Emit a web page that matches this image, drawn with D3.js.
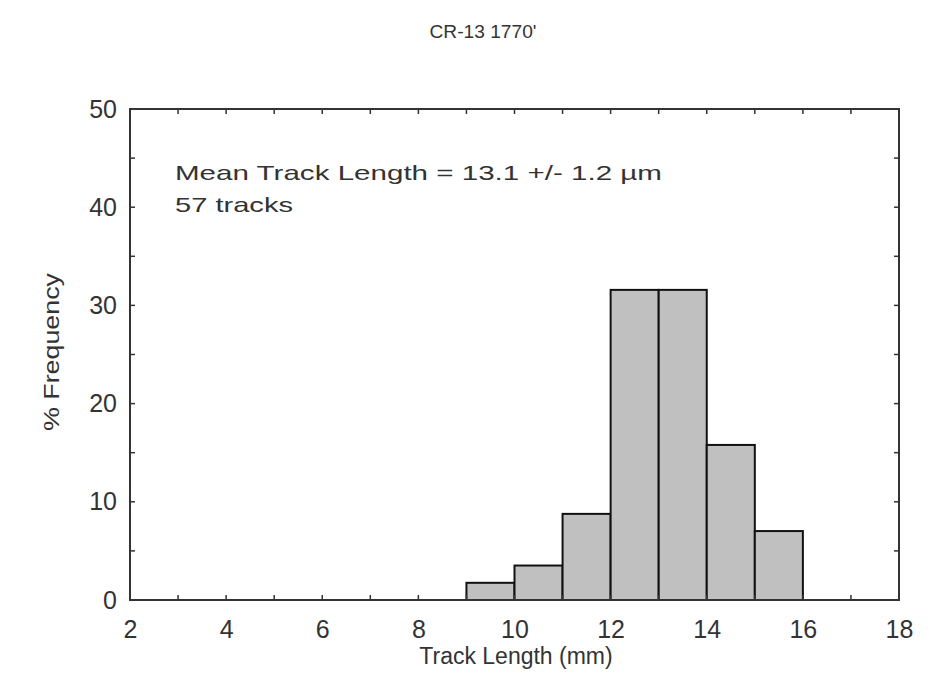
<!DOCTYPE html>
<html><head><meta charset="utf-8">
<script src="https://cdn.jsdelivr.net/npm/d3@7"></script>
<style>body{margin:0;background:#fff}svg text{font-family:"Liberation Sans",Arial,sans-serif;fill:#333}</style>
</head><body>
<svg id="c" width="935" height="700"></svg>
<script>
const binStarts = [9, 10, 11, 12, 13, 14, 15];
const frequencies = [1.75, 3.51, 8.77, 31.58, 31.58, 15.79, 7.02];
const xTickLabels = [2, 4, 6, 8, 10, 12, 14, 16, 18];
const yTickLabels = [0, 10, 20, 30, 40, 50];
const title = "CR-13 1770'";
const noteLines = ["Mean Track Length = 13.1 +/- 1.2 \u00b5m", "57 tracks"];

const svg = d3.select("#c");
const m = {l:130, r:899, t:109, b:600};
const x = d3.scaleLinear().domain([2,18]).range([m.l, m.r]);
const y = d3.scaleLinear().domain([0,50]).range([m.b, m.t]);

svg.append("g").selectAll("rect").data(binStarts).join("rect")
  .attr("x", d => x(d)).attr("width", d => x(d+1)-x(d))
  .attr("y", (d,i) => y(frequencies[i])).attr("height", (d,i) => y(0)-y(frequencies[i]))
  .attr("fill", "#c0c0c0").attr("stroke", "#111").attr("stroke-width", 2);

svg.append("rect").attr("x", m.l).attr("y", m.t).attr("width", m.r-m.l).attr("height", m.b-m.t)
  .attr("fill","none").attr("stroke","#333").attr("stroke-width",2);

const xt = d3.range(3, 18, 1);
const yt = d3.range(5, 50, 5);
const tg = svg.append("g").attr("stroke","#333").attr("stroke-width",1.5);
xt.forEach(v => {
  tg.append("line").attr("x1",x(v)).attr("x2",x(v)).attr("y1",m.b).attr("y2",m.b-5);
  tg.append("line").attr("x1",x(v)).attr("x2",x(v)).attr("y1",m.t).attr("y2",m.t+5);
});
yt.forEach(v => {
  tg.append("line").attr("y1",y(v)).attr("y2",y(v)).attr("x1",m.l).attr("x2",m.l+5);
  tg.append("line").attr("y1",y(v)).attr("y2",y(v)).attr("x1",m.r).attr("x2",m.r-5);
});

const ff = "'Liberation Sans',Arial,sans-serif";
const xAxis = svg.append("g").attr("transform",`translate(0,${m.b})`)
  .call(d3.axisBottom(x).tickValues(xTickLabels).tickSize(0).tickPadding(20));
xAxis.select(".domain").remove();
xAxis.selectAll("text").attr("font-size",25).style("font-family",ff).attr("fill","#333");
const yAxis = svg.append("g").attr("transform",`translate(${m.l},0)`)
  .call(d3.axisLeft(y).tickValues(yTickLabels).tickSize(0).tickPadding(13));
yAxis.select(".domain").remove();
yAxis.selectAll("text").attr("font-size",25).style("font-family",ff).attr("fill","#333");

svg.append("text").attr("x",483).attr("y",38).attr("text-anchor","middle").attr("font-size",19)
  .attr("textLength",107).attr("lengthAdjust","spacingAndGlyphs").text(title);
svg.append("text").attr("x",516).attr("y",664).attr("text-anchor","middle").attr("font-size",23)
  .text("Track Length (mm)");
svg.append("text").attr("transform","translate(59,352) rotate(-90)").attr("text-anchor","middle").attr("font-size",22)
  .attr("textLength",158).attr("lengthAdjust","spacingAndGlyphs").text("% Frequency");

const noteW = [487, 118];
noteLines.forEach((t,i) => {
  svg.append("text").attr("x",175).attr("y",180+i*32).attr("font-size",21)
    .attr("textLength",noteW[i]).attr("lengthAdjust","spacingAndGlyphs").text(t);
});
</script>
</body></html>
